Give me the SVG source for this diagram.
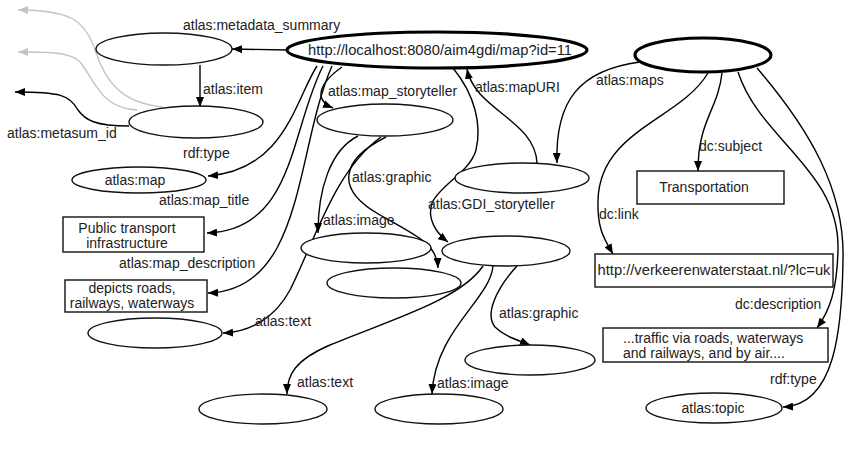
<svg xmlns="http://www.w3.org/2000/svg" width="847" height="471" viewBox="0 0 847 471">
<style>
.n{fill:#fff;stroke:#111;stroke-width:1.4}
.nb{fill:#fff;stroke:#000;stroke-width:3.2}
.e{fill:none;stroke:#000;stroke-width:1.4}
.g{fill:none;stroke:#c4c4c4;stroke-width:1.4}
text{font-family:"Liberation Sans",Arial,sans-serif;font-size:14px;fill:#222}
.c{text-anchor:middle}
</style>
<defs>
<marker id="ah" markerWidth="10" markerHeight="8" refX="10" refY="4" orient="auto" markerUnits="userSpaceOnUse"><path d="M0,0 L10,4 L0,8 z" fill="#000"/></marker>
<marker id="ag" markerWidth="10" markerHeight="8" refX="10" refY="4" orient="auto" markerUnits="userSpaceOnUse"><path d="M0,0 L10,4 L0,8 z" fill="#c4c4c4"/></marker>
</defs>
<rect width="847" height="471" fill="#fff"/>
<g id="connectors">
<path class="g" d="M163,107 C120,103 105,80 95,50 C85,20 70,10 18,10" marker-end="url(#ag)"/>
<path class="g" d="M137,110 C100,108 95,80 80,62 C70,52 50,52 18,52" marker-end="url(#ag)"/>
<path class="e" d="M129,126 C95,126 85,120 78,110 C70,95 60,92 15,92" marker-end="url(#ah)"/>
<path class="e" d="M287,50 L232,49" marker-end="url(#ah)"/>
<path class="e" d="M200,65 L200,107" marker-end="url(#ah)"/>
<path class="e" d="M317,66 C295,100 285,170 208,176" marker-end="url(#ah)"/>
<path class="e" d="M323,66 C290,130 295,230 207,233" marker-end="url(#ah)"/>
<path class="e" d="M332,66 C295,150 305,290 208,293" marker-end="url(#ah)"/>
<path class="e" d="M342,67 C318,84 314,100 333,108" marker-end="url(#ah)"/>
<path class="e" d="M537,163 C535,120 475,110 467,69" marker-end="url(#ah)"/>
<path class="e" d="M453,68 C475,95 482,125 476,150 C470,172 440,185 432,203 C427,218 435,232 448,242" marker-end="url(#ah)"/>
<path class="e" d="M640,62 C580,70 555,100 557,163" marker-end="url(#ah)"/>
<path class="e" d="M708,73 C680,120 600,130 598,200 C597,230 605,240 613,254" marker-end="url(#ah)"/>
<path class="e" d="M722,73 C718,110 698,120 698,171" marker-end="url(#ah)"/>
<path class="e" d="M738,72 C760,140 840,170 838,250 C837,290 830,310 817,328" marker-end="url(#ah)"/>
<path class="e" d="M757,68 C810,130 845,190 843,260 C842,330 835,405 783,407" marker-end="url(#ah)"/>
<path class="e" d="M358,136 C330,150 318,190 318,233" marker-end="url(#ah)"/>
<path class="e" d="M386,137 C340,160 335,190 380,215 C420,237 437,245 438,268" marker-end="url(#ah)"/>
<path class="e" d="M381,137 C335,170 315,240 290,290 C275,318 250,332 223,333" marker-end="url(#ah)"/>
<path class="e" d="M483,266 C460,300 390,320 330,345 C295,360 287,375 287,394" marker-end="url(#ah)"/>
<path class="e" d="M493,266 C490,300 435,330 432,394" marker-end="url(#ah)"/>
<path class="e" d="M517,266 C495,290 485,315 495,327 C505,337 518,340 530,345" marker-end="url(#ah)"/>
</g>
<g id="edge-labels">
<text x="183" y="30">atlas:metadata_summary</text>
<text x="203" y="94">atlas:item</text>
<text x="7" y="138">atlas:metasum_id</text>
<text x="183" y="158">rdf:type</text>
<text x="159" y="205">atlas:map_title</text>
<text x="119" y="268">atlas:map_description</text>
<text x="255" y="326">atlas:text</text>
<text x="328" y="96">atlas:map_storyteller</text>
<text x="475" y="92">atlas:mapURI</text>
<text x="596" y="85">atlas:maps</text>
<text x="699" y="151">dc:subject</text>
<text x="599" y="219">dc:link</text>
<text x="735" y="309">dc:description</text>
<text x="770" y="384">rdf:type</text>
<text x="352" y="182">atlas:graphic</text>
<text x="323" y="225">atlas:image</text>
<text x="428" y="209">atlas:GDI_storyteller</text>
<text x="499" y="318">atlas:graphic</text>
<text x="297" y="387">atlas:text</text>
<text x="437" y="388">atlas:image</text>
</g>
<g id="n_metasummary"><ellipse class="n" cx="164" cy="49" rx="68" ry="16"/></g>
<g id="n_main"><ellipse class="nb" cx="437" cy="50" rx="150" ry="18"/><text class="c" x="440" y="55" textLength="264" lengthAdjust="spacingAndGlyphs">http://localhost:8080/aim4gdi/map?id=11</text></g>
<g id="n_item"><ellipse class="n" cx="196" cy="122" rx="67" ry="16"/></g>
<g id="n_atlasmap"><ellipse class="n" cx="139" cy="180" rx="67" ry="13"/><text class="c" x="135" y="185">atlas:map</text></g>
<g id="n_title"><rect class="n" x="63" y="217" width="141" height="35"/><text class="c" x="127" y="233">Public transport</text><text class="c" x="127" y="248">infrastructure</text></g>
<g id="n_desc"><rect class="n" x="65" y="280" width="142" height="32"/><text class="c" x="132" y="293">depicts roads,</text><text class="c" x="132" y="308">railways, waterways</text></g>
<g id="n_text1"><ellipse class="n" cx="155" cy="333" rx="67" ry="15"/></g>
<g id="n_mapstory"><ellipse class="n" cx="385" cy="120" rx="68" ry="16"/></g>
<g id="n_image1"><ellipse class="n" cx="366" cy="248" rx="65" ry="15"/></g>
<g id="n_graphic1"><ellipse class="n" cx="394" cy="283" rx="67" ry="15"/></g>
<g id="n_gdistory"><ellipse class="n" cx="506" cy="251" rx="64" ry="15"/></g>
<g id="n_mapuri"><ellipse class="n" cx="522" cy="178" rx="67" ry="15"/></g>
<g id="n_topicres"><ellipse class="nb" cx="703" cy="55" rx="68" ry="17"/></g>
<g id="n_transport"><rect class="n" x="637" y="171" width="147" height="33"/><text class="c" x="704" y="192">Transportation</text></g>
<g id="n_link"><rect class="n" x="595" y="254" width="238" height="33"/><text class="c" x="714" y="275" textLength="233" lengthAdjust="spacingAndGlyphs">http://verkeerenwaterstaat.nl/?lc=uk</text></g>
<g id="n_traffic"><rect class="n" x="603" y="328" width="225" height="34"/><text x="623" y="343">...traffic via roads, waterways</text><text x="623" y="358">and railways, and by air....</text></g>
<g id="n_topic"><ellipse class="n" cx="714" cy="408" rx="68" ry="15"/><text class="c" x="713" y="413">atlas:topic</text></g>
<g id="n_graphic2"><ellipse class="n" cx="530" cy="360" rx="65" ry="15"/></g>
<g id="n_text2"><ellipse class="n" cx="263" cy="409" rx="64" ry="15"/></g>
<g id="n_image2"><ellipse class="n" cx="439" cy="409" rx="64" ry="15"/></g>
</svg>
